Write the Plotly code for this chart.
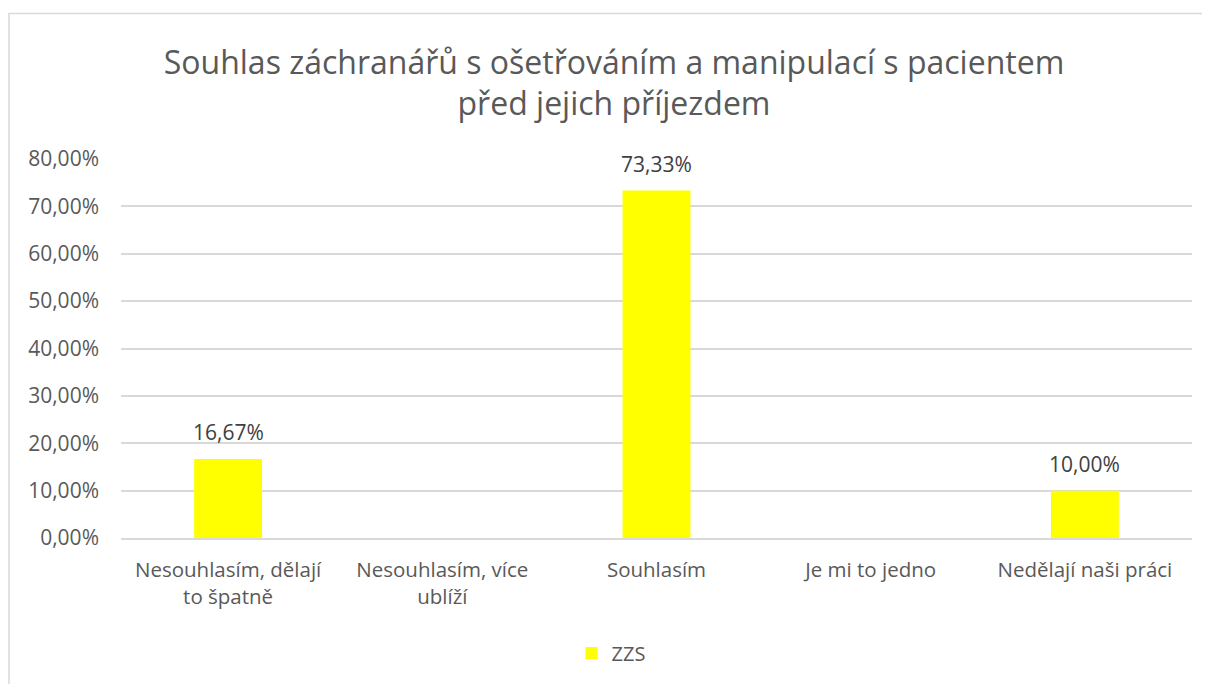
import plotly.graph_objects as go

# data
categories = ["Nesouhlasím, dělají<br>to špatně", "Nesouhlasím, více<br>ublíží", "Souhlasím",
              "Je mi to jedno", "Nedělají naši práci"]
zzs = [0.1667, 0.0, 0.7333, 0.0, 0.10]
labels = ["16,67%", "", "73,33%", "", "10,00%"]
tick_vals = [0, 0.1, 0.2, 0.3, 0.4, 0.5, 0.6, 0.7, 0.8]
tick_text = ["0,00%", "10,00%", "20,00%", "30,00%", "40,00%", "50,00%", "60,00%", "70,00%", "80,00%"]

# page has 8px body margin, so the figure is a bit smaller
W, H = 1202, 676
L, R, T, B = 113, 18, 151, 146
pw, ph = W - L - R, H - T - B

FONT = "Open Sans"
GRAY = "#595959"
GRID = "#d9d9d9"


def px_x(px):
    return (px - L) / pw


def px_y(py):
    return (H - B - py) / ph


fig = go.Figure()
fig.add_trace(go.Bar(
    x=categories, y=zzs, name="ZZS",
    marker=dict(color="#FFFF00", line=dict(width=0)),
))

# data labels above the bars
for cat, val, lab in zip(categories, zzs, labels):
    if lab:
        fig.add_annotation(x=cat, y=val, text=lab, showarrow=False,
                           yanchor="bottom", yshift=11,
                           font=dict(family=FONT, size=21, color="#404040"))

# chart border (excel-like)
fig.add_shape(type="rect", xref="paper", yref="paper",
              x0=px_x(1), x1=px_x(W + 6), y0=px_y(H + 6), y1=px_y(5.5),
              line=dict(color=GRID, width=1.5), fillcolor="rgba(0,0,0,0)")

fig.update_layout(
    width=W, height=H,
    margin=dict(l=L, r=R, t=T, b=B),
    paper_bgcolor="white", plot_bgcolor="white",
    title=dict(text="Souhlas záchranářů s ošetřováním a manipulací s pacientem<br>před jejich příjezdem",
               x=606 / W, xanchor="center", y=1 - 65.5 / H, yanchor="middle",
               font=dict(family=FONT, size=32, color=GRAY)),
    font=dict(family=FONT, size=20.5, color=GRAY),
    bargap=0.683,
    showlegend=True,
    legend=dict(orientation="h", x=px_x(603), xanchor="center", y=px_y(645),
                yanchor="middle", font=dict(family=FONT, size=20, color=GRAY),
                itemwidth=30),
    yaxis=dict(range=[0, 0.8], tickvals=tick_vals, ticktext=tick_text,
               showgrid=True, gridcolor=GRID, gridwidth=1.5,
               zeroline=False, showline=False, ticks="", ticklabelstandoff=21,
               tickfont=dict(family=FONT, size=21, color=GRAY)),
    xaxis=dict(showline=True, linecolor=GRID, linewidth=1.5, ticks="",
               tickfont=dict(family=FONT, size=20.5, color=GRAY), ticklabelstandoff=13),
)

fig.write_html("out.html")
